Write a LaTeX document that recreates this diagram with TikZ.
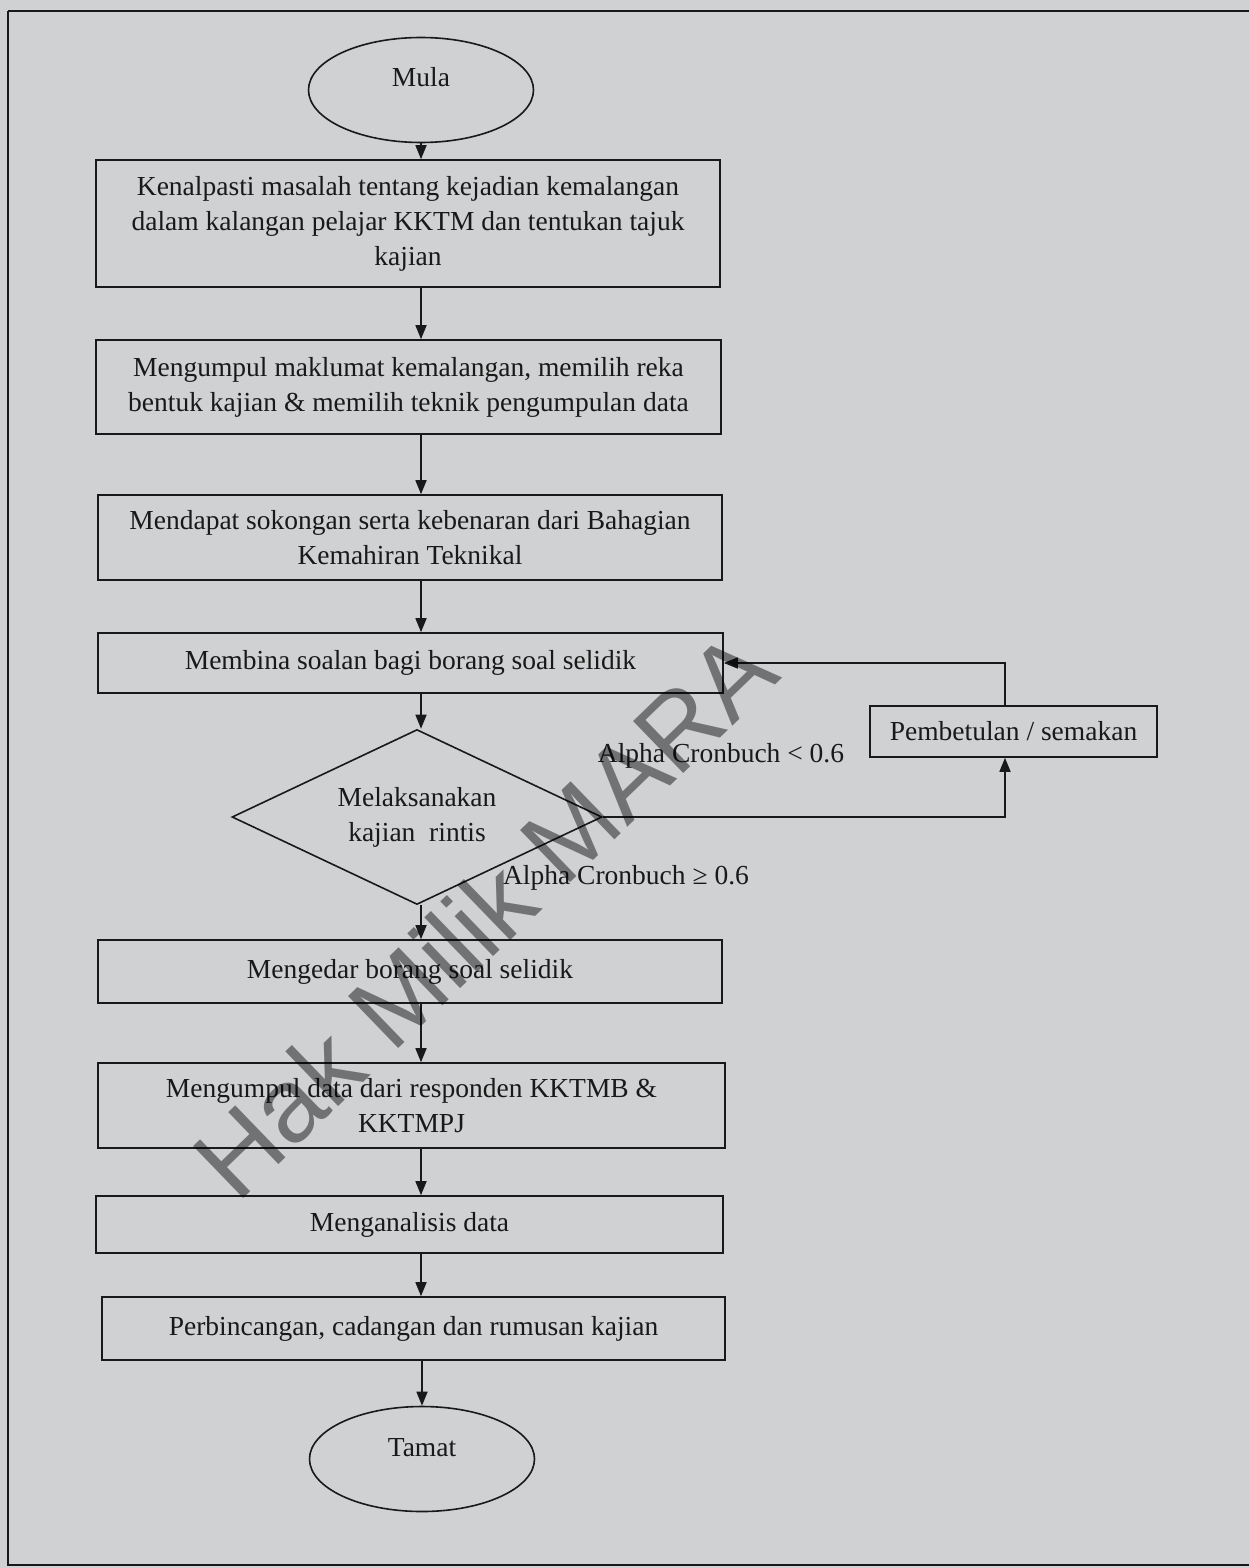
\documentclass[tikz,border=0pt]{standalone}
\usepackage{fontspec}
\setmainfont{Liberation Serif}
\newfontfamily\wmfont{Liberation Sans}
\usetikzlibrary{shapes.geometric,arrows.meta}
\definecolor{paper}{RGB}{207,209,210}
\definecolor{ink}{RGB}{25,25,25}
\begin{document}
\begin{tikzpicture}[x=1pt,y=-1pt,
  every node/.style={font=\fontsize{27.5}{35}\selectfont, text=ink},
  line/.style={draw=ink, line width=1.6pt},
  procbox/.style={line, rectangle, inner sep=0pt, align=center},
  termnode/.style={line, ellipse, inner sep=0pt, minimum width=225pt, minimum height=105pt, text height=20pt, text depth=26pt},
  decnode/.style={line, diamond, aspect=2.1, inner sep=0pt, minimum width=370pt, minimum height=175pt, align=center},
  arr/.style={draw=ink, line width=1.6pt, -{Triangle[length=14pt,width=11pt]}},
  lbl/.style={inner sep=0pt, anchor=center}
]
\fill[paper] (0,0) rectangle (1249,1568);
\useasboundingbox (0,0) rectangle (1249,1568);
% frame
\draw[ink, line width=2.6pt] (8,11) -- (1249,11);
\draw[ink, line width=2.2pt] (8,11) -- (8,1565) -- (1249,1565);

\coordinate (spine) at (421,0);

\node[termnode] (mula) at (421,90) {Mula};
\node[procbox, minimum width=624pt, minimum height=127pt] (b1) at (408,223.5)
  {Kenalpasti masalah tentang kejadian kemalangan\\dalam kalangan pelajar KKTM dan tentukan tajuk\\kajian};
\node[procbox, minimum width=625pt, minimum height=94pt] (b2) at (408.5,387)
  {Mengumpul maklumat kemalangan, memilih reka\\bentuk kajian \& memilih teknik pengumpulan data};
\node[procbox, minimum width=624pt, minimum height=85pt] (b3) at (410,537.5)
  {Mendapat sokongan serta kebenaran dari Bahagian\\Kemahiran Teknikal};
\node[procbox, minimum width=625pt, minimum height=60pt] (b4) at (410.5,663)
  {Membina soalan bagi borang soal selidik};
\node[decnode] (dia) at (417,817) {Melaksanakan\\kajian\ \ rintis};
\node[procbox, minimum width=287pt, minimum height=51pt] (pb) at (1013.5,731.5)
  {Pembetulan / semakan};
\node[procbox, minimum width=624pt, minimum height=63pt] (b5) at (410,971.5)
  {Mengedar borang soal selidik};
\node[procbox, minimum width=627pt, minimum height=85pt] (b6) at (411.5,1105.5)
  {Mengumpul data dari responden KKTMB \&\\KKTMPJ};
\node[procbox, minimum width=627pt, minimum height=57pt] (b7) at (409.5,1224.5)
  {Menganalisis data};
\node[procbox, minimum width=623pt, minimum height=63pt] (b8) at (413.5,1328.5)
  {Perbincangan, cadangan dan rumusan kajian};
\node[termnode] (tamat) at (422,1459) {Tamat};

\node[lbl] (lt) at (721,756) {Alpha Cronbuch < 0.6};
\node[lbl] (ge) at (626,878) {Alpha Cronbuch ≥ 0.6};

% connectors
\draw[arr] (mula.south) -- (mula.south |- b1.north);
\draw[arr] (b1.south -| spine) -- (b2.north -| spine);
\draw[arr] (b2.south -| spine) -- (b3.north -| spine);
\draw[arr] (b3.south -| spine) -- (b4.north -| spine);
\draw[arr] (b4.south -| spine) -- (dia.north -| spine);
\draw[arr] (dia.south -| spine) -- (b5.north -| spine);
\draw[arr] (b5.south -| spine) -- (b6.north -| spine);
\draw[arr] (b6.south -| spine) -- (b7.north -| spine);
\draw[arr] (b7.south -| spine) -- (b8.north -| spine);
\draw[arr] (b8.south -| tamat) -- (tamat.north);
\coordinate (loopx) at (1005,0);
\draw[arr] (dia.east) -| (loopx |- pb.south);
\draw[arr] (loopx |- pb.north) |- (b4.east);

% watermark
\node[inner sep=0pt, rotate=44, text=black, text opacity=0.45, font=\wmfont\fontsize{105}{110}\selectfont] (wm) at (484,914) {Hak Milik MARA};
\end{tikzpicture}
\end{document}
